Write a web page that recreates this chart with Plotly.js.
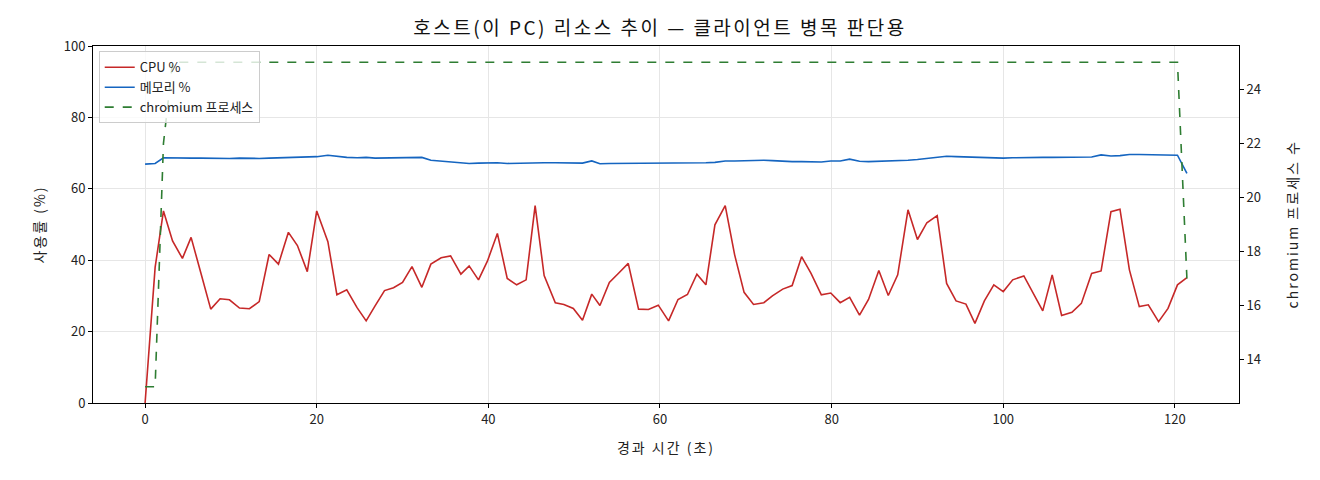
<!DOCTYPE html>
<html>
<head>
<meta charset="utf-8">
<script src="https://cdn.plot.ly/plotly-3.0.1.min.js"></script>
<style>
  html, body { margin: 0; padding: 0; background: #fff; }
  #chart { width: 1320px; height: 480px; }
  /* reference font is set wider than Noto CJK, open the spacing a little */
  #chart .gtitle { letter-spacing: 2.5px; }
  #chart .xtitle, #chart .ytitle { letter-spacing: 2px; }
  #chart .annotation-text { letter-spacing: 2px; }
</style>
</head>
<body>
<div id="chart"></div>
<script>
// 경과 시간 (초) per sample
const elapsed = [
    0, 1.17, 2.14, 3.2, 4.35, 5.36, 6.5, 7.65, 8.74, 9.83,
    11.0, 12.16, 13.3, 14.45, 15.54, 16.7, 17.75, 18.9, 20.0, 21.3,
    22.35, 23.5, 24.7, 25.76, 26.8, 27.9, 28.95, 30.0, 31.1, 32.25,
    33.3, 34.5, 35.6, 36.8, 37.76, 38.85, 39.9, 41.05, 42.2, 43.3,
    44.4, 45.45, 46.5, 47.8, 48.8, 49.9, 50.97, 52.05, 53.0, 54.1,
    55.2, 56.3, 57.5, 58.65, 59.8, 61.0, 62.1, 63.2, 64.3, 65.35,
    66.4, 67.6, 68.7, 69.8, 70.9, 72.1, 73.1, 74.3, 75.4, 76.5,
    77.6, 78.8, 79.9, 81.0, 82.1, 83.25, 84.3, 85.5, 86.6, 87.7,
    88.9, 90.0, 91.1, 92.3, 93.4, 94.5, 95.65, 96.7, 97.8, 98.9,
    100.0, 101.1, 102.4, 103.5, 104.6, 105.7, 106.8, 108.0, 109.1, 110.3,
    111.4, 112.55, 113.6, 114.7, 115.85, 116.9, 118.1, 119.2, 120.3, 121.4
];

const cpuPct = [
    0, 38, 53.8, 45.4, 40.5, 46.4, 36.4, 26.3, 29.2, 28.9,
    26.6, 26.4, 28.4, 41.6, 38.9, 47.8, 44.1, 36.8, 53.8, 45.2,
    30.3, 31.7, 26.7, 23.0, 27.2, 31.5, 32.3, 33.8, 38.2, 32.4,
    38.9, 40.7, 41.2, 36.1, 38.4, 34.5, 39.8, 47.5, 34.9, 33.1,
    34.5, 55.3, 35.7, 28.1, 27.6, 26.5, 23.2, 30.5, 27.3, 33.8,
    36.4, 39.1, 26.3, 26.2, 27.4, 23.0, 29.0, 30.4, 36.1, 33.1,
    49.9, 55.3, 41.5, 31.0, 27.6, 28.1, 30.0, 31.9, 32.9, 41.0,
    36.3, 30.3, 30.8, 28.1, 29.6, 24.6, 29.0, 37.1, 30.1, 35.9,
    54.1, 45.8, 50.5, 52.5, 33.5, 28.6, 27.7, 22.3, 28.6, 33.1,
    31.2, 34.5, 35.6, 30.8, 25.8, 35.9, 24.5, 25.4, 27.9, 36.3,
    37.0, 53.6, 54.3, 37.3, 27.0, 27.5, 22.8, 26.5, 33.1, 35.1
];

const memPct = [
    66.9, 67.1, 68.7, 68.6, 68.5, 68.6, 68.6, 68.5, 68.5, 68.5,
    68.6, 68.5, 68.5, 68.6, 68.7, 68.7, 68.8, 68.9, 69.0, 69.4,
    69.1, 68.8, 68.7, 68.8, 68.6, 68.6, 68.6, 68.7, 68.8, 68.8,
    68.0, 67.8, 67.5, 67.4, 67.1, 67.2, 67.3, 67.3, 67.1, 67.2,
    67.3, 67.3, 67.3, 67.3, 67.3, 67.3, 67.2, 67.8, 67.0, 67.1,
    67.1, 67.1, 67.1, 67.1, 67.1, 67.1, 67.1, 67.1, 67.2, 67.3,
    67.4, 67.8, 67.8, 67.9, 68.0, 68.0, 67.9, 67.7, 67.6, 67.6,
    67.6, 67.5, 67.8, 67.8, 68.3, 67.7, 67.6, 67.7, 67.6, 67.8,
    68.0, 68.2, 68.5, 69.0, 69.1, 69.0, 68.9, 68.9, 68.8, 68.7,
    68.6, 68.7, 68.8, 68.8, 68.8, 68.8, 68.8, 68.8, 68.7, 68.9,
    69.5, 69.2, 69.3, 69.6, 69.6, 69.6, 69.6, 69.6, 69.4, 64.3
];

const chromiumProcs = [
    13, 13, 22, 25, 25, 25, 25, 25, 25, 25,
    25, 25, 25, 25, 25, 25, 25, 25, 25, 25,
    25, 25, 25, 25, 25, 25, 25, 25, 25, 25,
    25, 25, 25, 25, 25, 25, 25, 25, 25, 25,
    25, 25, 25, 25, 25, 25, 25, 25, 25, 25,
    25, 25, 25, 25, 25, 25, 25, 25, 25, 25,
    25, 25, 25, 25, 25, 25, 25, 25, 25, 25,
    25, 25, 25, 25, 25, 25, 25, 25, 25, 25,
    25, 25, 25, 25, 25, 25, 25, 25, 25, 25,
    25, 25, 25, 25, 25, 25, 25, 25, 25, 25,
    25, 25, 25, 25, 25, 25, 25, 25, 25, 17
];

const FONT = '"Noto Sans CJK KR", "Noto Sans", sans-serif';

const traces = [
    { x: elapsed, y: cpuPct, name: 'CPU %', type: 'scatter', mode: 'lines', line: { color: '#c62828', width: 1.6 } },
    { x: elapsed, y: memPct, name: '메모리 %', type: 'scatter', mode: 'lines', line: { color: '#1565c0', width: 1.6 } },
    { x: elapsed, y: chromiumProcs, name: 'chromium 프로세스', type: 'scatter', mode: 'lines', yaxis: 'y2', line: { color: '#2e7d32', width: 1.6, dash: 'dash' } }
];

const axisBase = {
    showline: true, linecolor: '#000', linewidth: 1,
    ticks: 'outside', ticklen: 4, tickcolor: '#000', tickwidth: 1,
    zeroline: false, tickfont: { size: 13, color: '#222' }
};

const layout = {
    width: 1320, height: 480,
    paper_bgcolor: '#fff', plot_bgcolor: '#fff',
    font: { family: FONT, color: '#222', size: 13 },
    margin: { l: 93, r: 81, t: 46, b: 77 },
    title: { text: '호스트(이 PC) 리소스 추이 — 클라이언트 병목 판단용', x: 0.5, xanchor: 'center', y: 0.94, yanchor: 'middle', font: { size: 19, color: '#111' } },
    showlegend: true,
    legend: { x: 0.005, y: 0.985, xanchor: 'left', yanchor: 'top', bgcolor: 'rgba(255,255,255,0.8)', bordercolor: '#ccc', borderwidth: 1, font: { size: 13 }, tracegroupgap: 0 },
    xaxis: { ...axisBase, mirror: true, range: [-6.07, 127.47], dtick: 20, showgrid: true, gridcolor: '#e6e6e6', title: { text: '경과 시간 (초)', font: { size: 14 }, standoff: 16 } },
    yaxis: { ...axisBase, range: [0, 100], dtick: 20, showgrid: true, gridcolor: '#e6e6e6', title: { text: '사용률 (%)', font: { size: 14 }, standoff: 14 } },
    yaxis2: { ...axisBase, overlaying: 'y', side: 'right', range: [12.4, 25.6], dtick: 2, tick0: 14, showgrid: false },
    // right label reads bottom-to-top like the original, so it is an annotation
    annotations: [{
        text: 'chromium 프로세스 수', xref: 'paper', yref: 'paper', x: 1.0462, y: 0.5,
        xanchor: 'center', yanchor: 'middle', textangle: -90, showarrow: false,
        font: { size: 14, color: '#222' }
    }]
};

Plotly.newPlot('chart', traces, layout, { displayModeBar: false, staticPlot: true });
</script>
</body>
</html>
